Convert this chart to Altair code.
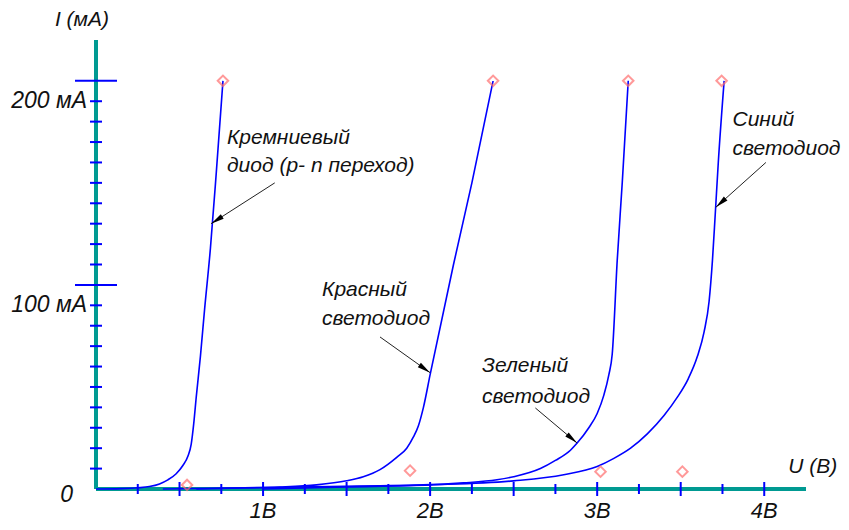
import math
import altair as alt
import pandas as pd

# ---------------- data ----------------
si_v = [0.0, 0.15, 0.25, 0.32, 0.38, 0.43, 0.48, 0.52, 0.55, 0.57, 0.585, 0.60, 0.625, 0.65, 0.685, 0.72, 0.76]
si_i = [0.0, 0.2, 0.6, 1.2, 2.5, 4.5, 7.5, 11.5, 16, 22, 32, 45, 65, 88, 118, 155, 200]

red_v = [0.4, 0.8, 1.1, 1.32, 1.5, 1.6, 1.7, 1.8, 1.86, 1.9, 1.93, 1.96, 2.0, 2.14, 2.25, 2.377]
red_i = [0.0, 0.5, 1.0, 2.0, 4.0, 6.0, 9.5, 15.5, 20, 25.5, 31, 40, 56, 110, 150, 200]

grn_v = [0.6, 1.2, 1.96, 2.2, 2.4, 2.5, 2.66, 2.75, 2.84, 2.88, 2.95, 3.0, 3.04, 3.07, 3.09, 3.12, 3.15, 3.186]
grn_i = [0.0, 1.0, 2.0, 3.0, 4.5, 6.0, 10, 14, 19, 22.5, 30, 37, 46, 56, 66, 112, 150, 200]

blu_v = [1.0, 1.5, 2.0, 2.5, 2.8, 3.0, 3.1, 3.2, 3.3, 3.4, 3.48, 3.545, 3.6, 3.64, 3.67, 3.69, 3.707, 3.725, 3.76]
blu_i = [0.0, 1.0, 2.0, 4.0, 7.0, 11, 15, 20, 27, 36, 45, 54, 65, 77, 92, 112, 135, 160, 200]

marker_v = [0.76, 2.377, 3.186, 3.745, 0.545, 1.88, 3.02, 3.51]
marker_i = [200, 200, 200, 200, 2, 9, 8.5, 8.5]

label_text = ["Кремниевый", "диод (p- n переход)", "Красный", "светодиод",
              "Зеленый", "светодиод", "Синий", "светодиод"]
label_v = [0.784, 0.784, 1.353, 1.353, 2.311, 2.311, 3.81, 3.81]
label_i = [172, 158.3, 97.5, 83.3, 60.3, 45.1, 180.9, 166.7]

arrow_from_v = [1.07, 1.70, 2.63, 4.01]
arrow_from_i = [150, 74.5, 39.7, 160]
arrow_tip_v = [0.689, 2.0, 2.88, 3.71]
arrow_tip_i = [130, 57, 22.5, 138]

x_tick_vals = [0.25 * k for k in range(1, 17)]
y_tick_vals = [10 * k for k in range(1, 21)]
x_label_vals = [1, 2, 3, 4]
x_label_text = ["1В", "2В", "3В", "4В"]
y_label_vals = [200, 100]
y_label_text = ["200 мА", "100 мА"]

# ---------------- geometry / style ----------------
W, H = 710, 449
XMAX, YMAX = 4.25, 220.0
PXV = W / XMAX
PXI = H / YMAX
TEAL = "#009a92"
BLUE = "#0000ff"
FONT = "Liberation Sans"

xs = alt.Scale(domain=[0, XMAX], nice=False, zero=False)
ys = alt.Scale(domain=[0, YMAX], nice=False, zero=False)


def X(f):
    return alt.X(f, type="quantitative", scale=xs, axis=None)


def Y(f):
    return alt.Y(f, type="quantitative", scale=ys, axis=None)


# curves
rows = []
for name, vv, ii in [("si", si_v, si_i), ("red", red_v, red_i),
                     ("green", grn_v, grn_i), ("blue", blu_v, blu_i)]:
    for k, (v, i) in enumerate(zip(vv, ii)):
        rows.append({"series": name, "V": v, "I": i, "ord": k})
curves_df = pd.DataFrame(rows)

# axes lines
axis_df = pd.DataFrame({"x0": [0.0], "x1": [XMAX], "y0": [0.0], "y1": [YMAX]})
yaxis = alt.Chart(axis_df).mark_rule(color=TEAL, strokeWidth=4).encode(
    x=X("x0"), y=Y("y0"), y2="y1")
xaxis = alt.Chart(axis_df).mark_rule(color=TEAL, strokeWidth=4).encode(
    x=X("x0"), x2="x1", y=Y("y0"))

# y ticks (crossing the axis)
yt = []
for v in y_tick_vals:
    half = 21 if v % 100 == 0 else 6
    yt.append({"I": v, "xa": -half / PXV, "xb": half / PXV})
ytick = alt.Chart(pd.DataFrame(yt)).mark_rule(color=BLUE, strokeWidth=2).encode(
    x=X("xa"), x2="xb", y=Y("I"))

# x ticks
xt = []
for v in x_tick_vals:
    half = 7 if abs(v * 2 - round(v * 2)) < 1e-9 else 5
    xt.append({"V": v, "ya": -half / PXI, "yb": half / PXI})
xtick = alt.Chart(pd.DataFrame(xt)).mark_rule(color=BLUE, strokeWidth=2).encode(
    x=X("V"), y=Y("ya"), y2="yb")

lines = alt.Chart(curves_df).mark_line(color=BLUE, strokeWidth=1.6, interpolate="monotone").encode(
    x=X("V"), y=Y("I"), detail="series:N", order="ord:Q")

markers = alt.Chart(pd.DataFrame({"V": marker_v, "I": marker_i})).mark_point(
    shape="diamond", filled=False, color="#ff6f6f", size=110, strokeWidth=2).encode(
    x=X("V"), y=Y("I"))

# arrows
arows = []
for fv, fi, tv, ti in zip(arrow_from_v, arrow_from_i, arrow_tip_v, arrow_tip_i):
    dx = (tv - fv) * PXV
    dy = -(ti - fi) * PXI
    ang = math.degrees(math.atan2(dx, -dy)) % 360
    arows.append({"fv": fv, "fi": fi, "tv": tv, "ti": ti, "ang": ang})
arrow_df = pd.DataFrame(arows)
arrow_lines = alt.Chart(arrow_df).mark_rule(color="#222222", strokeWidth=1).encode(
    x=X("fv"), y=Y("fi"), x2="tv", y2="ti")
arrow_heads = alt.Chart(arrow_df).mark_point(
    shape="M0,0 L-0.2,1 L0.2,1 Z", filled=True, color="#000000", size=700, opacity=1).encode(
    x=X("tv"), y=Y("ti"), angle=alt.Angle("ang:Q", scale=None))

# annotation text
ann = alt.Chart(pd.DataFrame({"V": label_v, "I": label_i, "t": label_text})).mark_text(
    align="left", baseline="middle", font=FONT, fontStyle="italic", fontSize=21, color="#111111").encode(
    x=X("V"), y=Y("I"), text="t:N")

# tick labels
ylab = alt.Chart(pd.DataFrame({"x0": [0.0, 0.0], "I": y_label_vals, "t": y_label_text})).mark_text(
    align="right", baseline="middle", dx=-9, dy=20, font=FONT, fontStyle="italic", fontSize=23,
    color="#111111").encode(x=X("x0"), y=Y("I"), text="t:N")
zero_lab = alt.Chart(pd.DataFrame({"x0": [0.0], "I": [0.0], "t": ["0"]})).mark_text(
    align="right", baseline="middle", dx=-23, dy=6, font=FONT, fontStyle="italic", fontSize=23,
    color="#111111").encode(x=X("x0"), y=Y("I"), text="t:N")
xlab = alt.Chart(pd.DataFrame({"V": x_label_vals, "I": [0.0] * 4, "t": x_label_text})).mark_text(
    align="center", baseline="middle", dy=22, font=FONT, fontStyle="italic", fontSize=22,
    color="#111111").encode(x=X("V"), y=Y("I"), text="t:N")

# axis titles
titles = alt.Chart(pd.DataFrame({"V": [-0.084, 4.29], "I": [230.0, 10.8], "t": ["I (мА)", "U (В)"]})).mark_text(
    align="center", baseline="middle", font=FONT, fontStyle="italic", fontSize=21,
    color="#111111").encode(x=X("V"), y=Y("I"), text="t:N")

chart = alt.layer(
    yaxis, xaxis, ytick, xtick, lines, markers, arrow_lines, arrow_heads,
    ann, ylab, zero_lab, xlab, titles
).properties(
    width=W, height=H,
    background="white",
    autosize=alt.AutoSizeParams(type="none"),
    padding={"left": 88, "top": 32, "right": 35, "bottom": 33},
).configure_view(strokeWidth=0, stroke=None)

chart.save("out.html", embed_options={"renderer": "svg", "actions": False})
